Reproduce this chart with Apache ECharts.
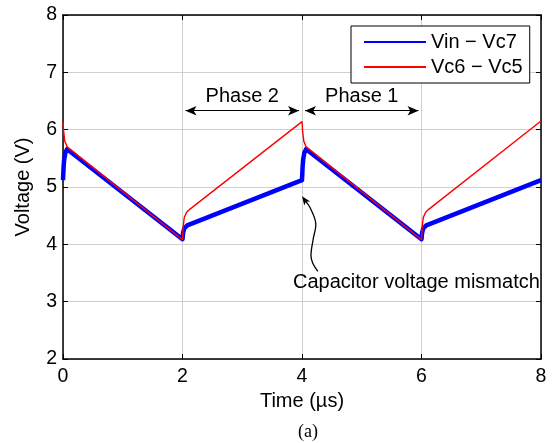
<!DOCTYPE html>
<html><head><meta charset="utf-8">
<script src="https://cdn.jsdelivr.net/npm/echarts@6/dist/echarts.min.js"></script>
<style>html,body{margin:0;padding:0;background:#fff}#c{width:554px;height:443px}</style>
</head><body><div id="c"></div>
<script>
const seriesNames = ['Vin \u2212 Vc7', 'Vc6 \u2212 Vc5'];
const tBlue = [0, 0.01, 0.02, 0.04, 0.07, 2.0, 2.01, 2.03, 2.08, 4.0, 4.01, 4.02, 4.04, 4.07, 6.0, 6.01, 6.03, 6.08, 8.0];
const vBlue = [5.12, 5.35, 5.48, 5.6, 5.66, 4.09, 4.2, 4.28, 4.33, 5.12, 5.35, 5.48, 5.6, 5.66, 4.09, 4.2, 4.28, 4.33, 5.12];
const tRed = [0, 0.01, 0.03, 0.07, 2.0, 2.01, 2.03, 2.07, 2.12, 4.0, 4.01, 4.03, 4.07, 6.0, 6.01, 6.03, 6.07, 6.12, 8.0];
const vRed = [6.14, 5.98, 5.8, 5.7, 4.08, 4.3, 4.47, 4.56, 4.61, 6.14, 5.98, 5.8, 5.7, 4.08, 4.3, 4.47, 4.56, 4.61, 6.15];
const xTickValues = [0, 2, 4, 6, 8];
const yTickValues = [2, 3, 4, 5, 6, 7, 8];
const phaseLabels = ['Phase 2', 'Phase 1'];
const phaseStart = [2.05, 4.05];
const phaseEnd = [3.95, 5.95];
const phaseLevel = 6.33;
const noteText = 'Capacitor voltage mismatch';
const notePath = [[4.0, 4.84], [4.13, 4.65], [4.23, 4.37], [4.185, 4.08], [4.15, 3.81], [4.18, 3.67], [4.265, 3.53]];
const noteAnchor = [3.85, 3.33];

const FONT = "'Liberation Sans', Arial, sans-serif";
const chart = echarts.init(document.getElementById('c'), null, {renderer: 'canvas'});
const pairs = (ts, vs) => ts.map((t, i) => [t, vs[i]]);

const axisCommon = {
  type: 'value',
  axisLine: {show: true, onZero: false, lineStyle: {color: '#000', width: 1.5}},
  axisTick: {show: true, inside: true, length: 5, lineStyle: {color: '#000', width: 1}},
};

chart.setOption({
  animation: false,
  backgroundColor: '#fff',
  grid: {left: 63, right: 13, top: 15, bottom: 84},
  legend: {
    orient: 'vertical', left: 351, top: 26,
    data: seriesNames,
    itemWidth: 62, itemHeight: 4, itemGap: 5,
    padding: [6, 7, 6, 12],
    borderColor: '#000', borderWidth: 1, backgroundColor: '#fff',
    textStyle: {fontSize: 20, color: '#000', fontFamily: FONT},
    itemStyle: {opacity: 0}
  },
  xAxis: [
    Object.assign({}, axisCommon, {
      min: xTickValues[0], max: xTickValues[xTickValues.length - 1], interval: 2, position: 'bottom',
      name: 'Time (\u00b5s)', nameLocation: 'middle', nameGap: 31,
      nameTextStyle: {fontSize: 20, color: '#000', fontFamily: FONT},
      axisLabel: {fontSize: 19.5, color: '#000', fontFamily: FONT, margin: 8},
      splitLine: {show: true, lineStyle: {color: '#cfcfcf', width: 1}}
    }),
    Object.assign({}, axisCommon, {
      min: 0, max: 8, interval: 2, position: 'top',
      axisLabel: {show: false}, splitLine: {show: false}
    })
  ],
  yAxis: [
    Object.assign({}, axisCommon, {
      min: yTickValues[0], max: yTickValues[yTickValues.length - 1], interval: 1, position: 'left',
      name: 'Voltage (V)', nameLocation: 'middle', nameGap: 30,
      nameTextStyle: {fontSize: 20, color: '#000', fontFamily: FONT},
      axisLabel: {fontSize: 19.5, color: '#000', fontFamily: FONT, margin: 6},
      splitLine: {show: true, lineStyle: {color: '#cfcfcf', width: 1}}
    }),
    Object.assign({}, axisCommon, {
      min: 2, max: 8, interval: 1, position: 'right',
      axisLabel: {show: false}, splitLine: {show: false}
    })
  ],
  series: [
    {
      name: seriesNames[0], type: 'line', data: pairs(tBlue, vBlue),
      symbol: 'none', showSymbol: false, smooth: false,
      lineStyle: {color: '#0000ff', width: 4.5, join: 'round'},
      itemStyle: {color: '#0000ff'}, z: 2
    },
    {
      name: seriesNames[1], type: 'line', data: pairs(tRed, vRed),
      symbol: 'none', showSymbol: false, smooth: false,
      lineStyle: {color: '#ff0000', width: 1.4},
      itemStyle: {color: '#ff0000'}, z: 3,
      markLine: {
        silent: true,
        symbol: ['arrow', 'arrow'],
        symbolSize: [7, 11],
        lineStyle: {color: '#000', width: 1.2, type: 'solid'},
        label: {show: true, position: 'middle', distance: 4, fontSize: 20, color: '#000', fontFamily: FONT,
          formatter: p => p.name},
        data: phaseLabels.map((lab, i) => [
          {name: lab, coord: [phaseStart[i], phaseLevel]},
          {coord: [phaseEnd[i], phaseLevel]}
        ])
      }
    }
  ]
});

function drawNote() {
  const pts = notePath.map(p => chart.convertToPixel({xAxisIndex: 0, yAxisIndex: 0}, p));
  const tip = pts[0], nxt = pts[1];
  let dx = tip[0] - nxt[0], dy = tip[1] - nxt[1];
  const len = Math.hypot(dx, dy); dx /= len; dy /= len;
  const nx = -dy, ny = dx;
  const L = 9, W = 3.6;
  const head = [
    tip,
    [tip[0] - dx * L + nx * W, tip[1] - dy * L + ny * W],
    [tip[0] - dx * L * 0.75, tip[1] - dy * L * 0.75],
    [tip[0] - dx * L - nx * W, tip[1] - dy * L - ny * W]
  ];
  const curve = pts.slice();
  curve[0] = [tip[0] - dx * 6, tip[1] - dy * 6];
  const a = chart.convertToPixel({xAxisIndex: 0, yAxisIndex: 0}, noteAnchor);
  const ps = chart.convertToPixel({xAxisIndex: 0, yAxisIndex: 0}, [0, 0]);
  const pe = chart.convertToPixel({xAxisIndex: 0, yAxisIndex: 0}, [8, 0]);
  chart.setOption({
    graphic: [
      {type: 'polyline', shape: {points: curve, smooth: 0.35}, style: {stroke: '#000', lineWidth: 1.3, fill: null}, z: 100},
      {type: 'polygon', shape: {points: head}, style: {fill: '#000'}, z: 100},
      {type: 'text', x: a[0], y: a[1], style: {text: noteText, fontSize: 20, fontFamily: FONT, fill: '#000', verticalAlign: 'middle', align: 'left'}, z: 100},
      {type: 'text', x: (ps[0] + pe[0]) / 2 + 6, y: 432, style: {text: '(a)', fontSize: 18, fontFamily: "'Liberation Serif', 'Times New Roman', serif", fill: '#000', verticalAlign: 'middle', align: 'center'}, z: 100}
    ]
  });
}
drawNote();
</script></body></html>
